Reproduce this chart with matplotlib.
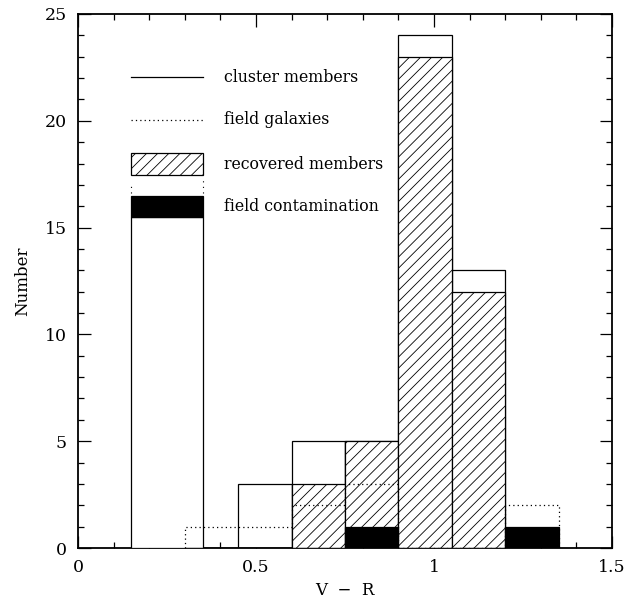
import matplotlib
matplotlib.use("Agg")
import matplotlib.pyplot as plt
from matplotlib.patches import Rectangle
from matplotlib.ticker import MultipleLocator
import numpy as np

# histogram bins in V - R (width 0.15)
edges = [0.30, 0.45, 0.60, 0.75, 0.90, 1.05, 1.20, 1.35]
cluster = [0, 3, 5, 5, 24, 13, 0]         # cluster members (solid)
field = [1, 1, 2, 3, 0, 0, 2]             # field galaxies (dotted)
recovered = [0, 0, 3, 5, 23, 12, 0]       # recovered members (hatched)
contamination = [0, 0, 0, 1, 0, 0, 1]     # field contamination (black)

labels = ["cluster members", "field galaxies", "recovered members", "field contamination"]

plt.rcParams["font.family"] = ["DejaVu Serif"]
plt.rcParams["hatch.linewidth"] = 0.6

fig = plt.figure(figsize=(6.36, 6.03), dpi=100)
ax = fig.add_axes([0.1226, 0.0912, 0.8397, 0.8856])

left = np.array(edges[:-1])
width = np.diff(edges)

ax.bar(left, cluster, width=width, align="edge", facecolor="white",
       edgecolor="black", linewidth=0.9, zorder=2)
ax.bar(left, recovered, width=width, align="edge", facecolor="white",
       edgecolor="black", hatch="///", linewidth=0.9, zorder=3)
ax.stairs(field, edges, color="black", linestyle=(0, (1, 2.5)), linewidth=0.9, zorder=4)
ax.bar(left, contamination, width=width, align="edge", facecolor="black",
       edgecolor="black", linewidth=0.9, zorder=5)

# key, drawn in data coordinates like the original
kx0, kx1 = 0.15, 0.35
ax.plot([kx0, kx1], [22.05, 22.05], color="black", lw=0.9)
ax.plot([kx0, kx1], [20.04, 20.04], color="black", lw=0.9, linestyle=(0, (1, 2.5)))
ax.add_patch(Rectangle((kx0, 17.46), kx1 - kx0, 1.03, facecolor="white",
                       edgecolor="black", hatch="///", lw=0.9, zorder=3))
ax.add_patch(Rectangle((kx0, 0), kx1 - kx0, 15.5, facecolor="white",
                       edgecolor="black", lw=0.9, zorder=3))
ax.add_patch(Rectangle((kx0, 15.5), kx1 - kx0, 1.0, facecolor="black",
                       edgecolor="black", lw=0.9, zorder=4))
ax.plot([kx0, kx0], [16.6, 17.1], color="black", lw=0.8, linestyle=(0, (1, 4)))
ax.plot([kx1, kx1], [16.6, 17.3], color="black", lw=0.8, linestyle=(0, (1, 4)))
for y, lab in zip([22.05, 20.04, 17.97, 16.0], labels):
    ax.text(0.41, y, lab, fontsize=11.3, va="center", ha="left")

ax.set_xlim(0, 1.5)
ax.set_ylim(0, 25)
ax.xaxis.set_major_locator(MultipleLocator(0.5))
ax.xaxis.set_minor_locator(MultipleLocator(0.1))
ax.yaxis.set_major_locator(MultipleLocator(5))
ax.yaxis.set_minor_locator(MultipleLocator(1))
ax.xaxis.set_major_formatter(plt.FuncFormatter(lambda v, p: "%g" % v))
ax.tick_params(which="both", direction="in", top=True, right=True, labelsize=12.5, width=0.9)
ax.tick_params(which="major", length=9, pad=8)
ax.tick_params(which="minor", length=4.5)
for s in ax.spines.values():
    s.set_linewidth(1.3)

ax.set_xlabel("V  \u2212  R", fontsize=12, labelpad=4)
ax.set_ylabel("Number", fontsize=12, labelpad=10)

fig.savefig("out.png", dpi=100)
